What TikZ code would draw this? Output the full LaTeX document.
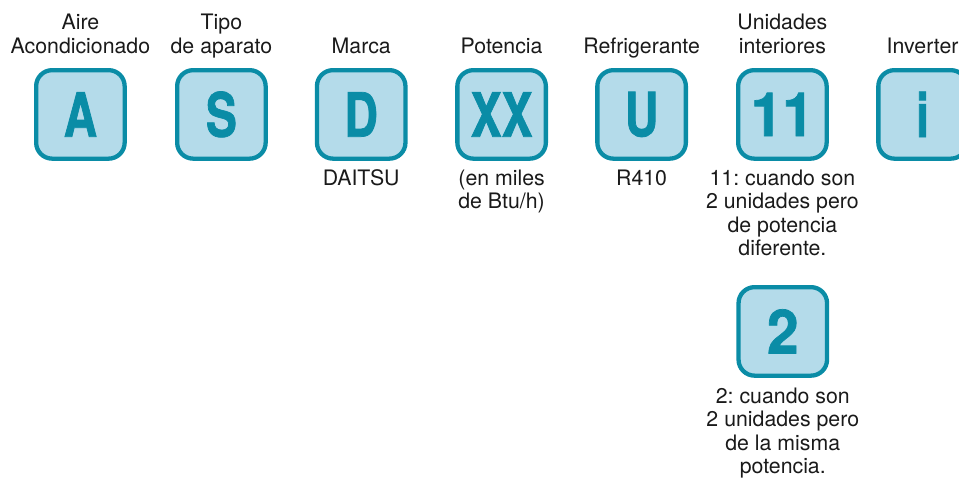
\documentclass[tikz,border=0pt]{standalone}
\usepackage{fontspec}
\setmainfont{TeX Gyre Heros}
\newfontfamily\bigfont{TeX Gyre Heros}[FakeStretch=0.76,FakeBold=1.2]
\newfontfamily\digfont{TeX Gyre Heros}[FakeStretch=0.93,FakeBold=1.2]
\definecolor{boxfill}{HTML}{B4DBEA}
\definecolor{boxline}{HTML}{0A8CA6}
\definecolor{txt}{HTML}{1A1A1A}
\tikzset{
  codebox/.style={draw=boxline, fill=boxfill, line width=4.3pt, rounded corners=16pt,
    minimum width=88.5pt, minimum height=88.5pt, inner sep=0pt,
    text=boxline, font=\bigfont\bfseries\fontsize{61}{61}\selectfont},
  digbox/.style={codebox, font=\digfont\bfseries\fontsize{61}{61}\selectfont},
  lbl/.style={anchor=base, inner sep=0pt, text=txt,
    font=\fontsize{21.3}{23.5}\selectfont},
}
\newcommand{\lines}[1]{\begin{tabular}[t]{@{}c@{}}#1\end{tabular}}
\frenchspacing
\begin{document}
\begin{tikzpicture}[x=1pt,y=-1pt]
\useasboundingbox (0,0) rectangle (959,479);
% boxes
\node[codebox] (bA) at (80.4,114.4) {A};
\node[codebox] (bS) at (221.4,114.4) {S};
\node[codebox] (bD) at (361.2,114.4) {D};
\node[codebox] (bX) at (501.6,114.4) {XX};
\node[codebox] (bU) at (641.6,114.4) {U};
\node[digbox] (b11) at (782.4,114.4) {11};
\node[codebox] (bi) at (922.6,114.4) {i};
\node[digbox] (b2) at (782.8,331.4) {2};
% top labels
\node[lbl] (tA) at (80.4,30) {\lines{Aire\\Acondicionado}};
\node[lbl] (tS) at (221.4,30) {\lines{Tipo\\de aparato}};
\node[lbl] (tD) at (361.2,53.5) {Marca};
\node[lbl] (tX) at (501.6,53.5) {Potencia};
\node[lbl] (tU) at (641.6,53.5) {Refrigerante};
\node[lbl] (t11) at (782.4,30) {\lines{Unidades\\interiores}};
\node[lbl] (ti) at (922.6,53.5) {Inverter};
% bottom labels
\node[lbl] (dD) at (361.2,185) {DAITSU};
\node[lbl] (dX) at (501.6,185) {\lines{(en miles\\de Btu/h)}};
\node[lbl] (dU) at (641.6,185) {R410};
\node[lbl] (d11) at (782.4,185) {\lines{11: cuando son\\2 unidades pero\\de potencia\\diferente.}};
\node[lbl] (d2) at (782.8,403) {\lines{2: cuando son\\2 unidades pero\\de la misma\\potencia.}};
\end{tikzpicture}
\end{document}
